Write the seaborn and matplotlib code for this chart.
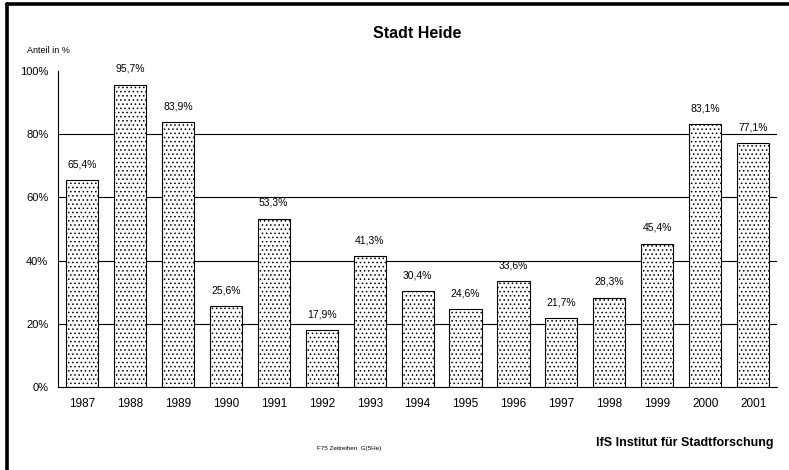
import matplotlib
matplotlib.use("Agg")
import matplotlib.pyplot as plt
from matplotlib.lines import Line2D
import seaborn as sns
import pandas as pd
import numpy as np

years = ["1987", "1988", "1989", "1990", "1991", "1992", "1993", "1994",
         "1995", "1996", "1997", "1998", "1999", "2000", "2001"]
shares = [65.4, 95.7, 83.9, 25.6, 53.3, 17.9, 41.3, 30.4,
          24.6, 33.6, 21.7, 28.3, 45.4, 83.1, 77.1]
y_ticks = [0, 20, 40, 60, 80, 100]
y_tick_labels = ["0%", "20%", "40%", "60%", "80%", "100%"]

sns.set_theme(style="white")
plt.rcParams["font.family"] = ["Liberation Sans", "DejaVu Sans"]
plt.rcParams["text.color"] = "black"
plt.rcParams["xtick.color"] = "black"
plt.rcParams["ytick.color"] = "black"
plt.rcParams["hatch.color"] = "#8a8a8a"
plt.rcParams["hatch.linewidth"] = 0.6

df = pd.DataFrame({"Jahr": years, "Anteil": shares})

fig = plt.figure(figsize=(7.89, 4.70), dpi=100)
ax = fig.add_axes([0.0735, 0.1766, 0.9115, 0.6724])

sns.barplot(data=df, x="Jahr", y="Anteil", color="white", edgecolor="black",
            linewidth=0.8, width=0.67, saturation=1, ax=ax, zorder=3)
for patch in ax.patches:
    patch.set_hatch("....")
    patch.set_facecolor("white")

for v in y_ticks[1:-1]:
    ax.axhline(v, color="black", linewidth=0.8, zorder=1)

ax.set_xlim(-0.5, len(years) - 0.5)
ax.set_ylim(0, 100)
ax.set_yticks(y_ticks)
ax.set_yticklabels(y_tick_labels, fontsize=8)
ax.set_xlabel("")
ax.set_ylabel("")
ax.tick_params(axis="x", which="major", length=0, labelsize=8.5, pad=8,
               labelcolor="black")
ax.set_xticks(np.arange(-0.5, len(years)), minor=True)
ax.tick_params(axis="x", which="minor", length=4, width=0.8, color="black", direction="out")
ax.tick_params(axis="y", length=4, width=0.8, color="black", direction="out", pad=3,
               labelcolor="black")

for s in ["top", "right"]:
    ax.spines[s].set_visible(False)
for s in ["left", "bottom"]:
    ax.spines[s].set_color("black")
    ax.spines[s].set_linewidth(0.8)

for i, v in enumerate(shares):
    ax.text(i, v + 3.4, f"{v:.1f}%".replace(".", ","), ha="center", va="bottom",
            fontsize=7.5, color="black")

fig.text(0.529, 0.928, "Stadt Heide", ha="center", va="center",
         fontsize=11.5, fontweight="bold", color="black")
fig.text(0.034, 0.893, "Anteil in %", ha="left", va="center", fontsize=6.5,
         color="black")
fig.text(0.402, 0.045, "F75 Zeitreihen  G(5He)", ha="left", va="center", fontsize=4.5,
         color="black")
fig.text(0.98, 0.057, "IfS Institut für Stadtforschung", ha="right", va="center",
         fontsize=9, fontweight="bold", color="black")

# frame lines along the top and left edge
fig.add_artist(Line2D([0.0095, 1.0], [0.9915, 0.9915], color="black", linewidth=2.6,
                      transform=fig.transFigure))
fig.add_artist(Line2D([0.0095, 0.0095], [0.0, 0.9915], color="black", linewidth=2.6,
                      transform=fig.transFigure))

fig.savefig("out.png", dpi=100)
